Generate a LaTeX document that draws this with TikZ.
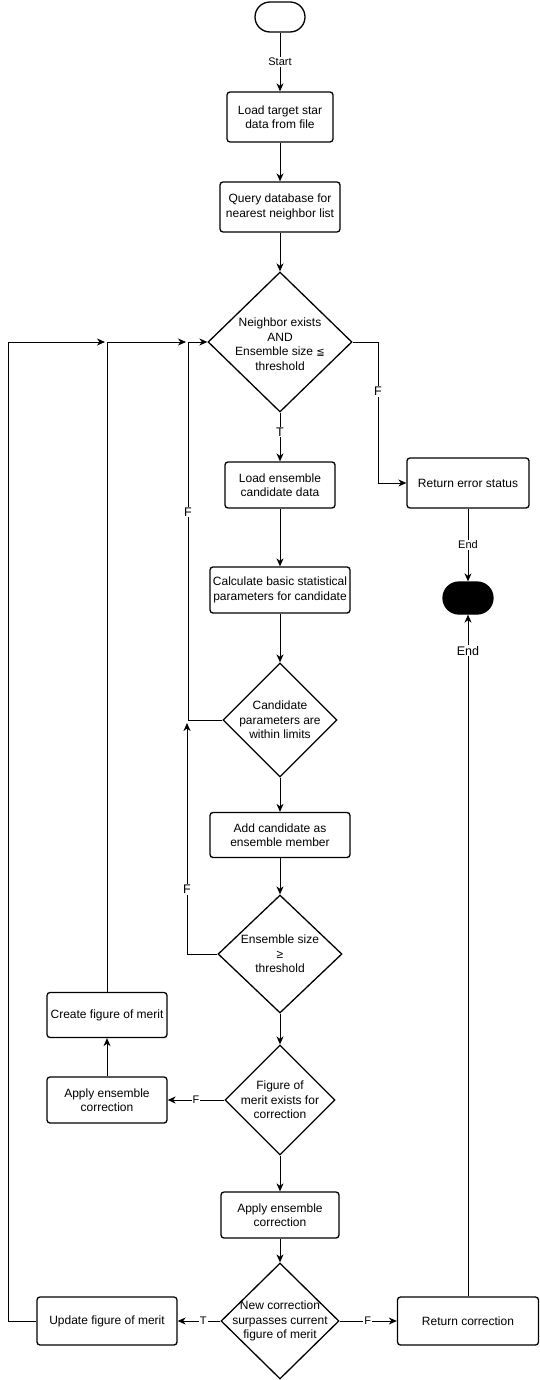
\documentclass[tikz,border=0pt]{standalone}
\usepackage{fontspec}
\setmainfont{Liberation Sans}
\newfontfamily\symfont{DejaVu Sans}
\usetikzlibrary{shapes.geometric,arrows.meta}
\begin{document}
\begin{tikzpicture}[x=1pt,y=-1pt,
  every node/.style={font=\fontsize{12}{14.5}\selectfont},
  proc/.style={draw,line width=1.3pt,rounded corners=3pt,align=center,inner sep=2pt},
  term/.style={draw,line width=1.3pt,rounded corners=15pt,minimum width=50pt,minimum height=30pt,inner sep=0pt},
  decision/.style={draw,diamond,line width=1.3pt,inner sep=0pt},
  dtext/.style={align=center,inner sep=0pt},
  lbl/.style={fill=white,inner sep=1pt,font=\fontsize{11}{13}\selectfont},
  biglbl/.style={fill=white,inner sep=1pt,font=\fontsize{12.5}{14}\selectfont},
  arr/.style={line width=1pt,-{Stealth[length=8pt,width=7pt,inset=2.5pt]}},
  ln/.style={line width=1pt}
]
\useasboundingbox (0,0) rectangle (539,1380);
\fill[white] (0,0) rectangle (539,1380);

% nodes
\node[term] (start) at (280,17) {};
\node[proc,minimum width=106pt,minimum height=50pt] (b1) at (280,117) {Load target star\\data from file};
\node[proc,minimum width=120pt,minimum height=50pt] (b2) at (280,207) {Query database for\\nearest neighbor list};
\node[decision,minimum width=144pt,minimum height=140pt] (d1) at (280,342) {};
\node[dtext] (d1t) at (280,344) {Neighbor exists\\AND\\Ensemble size {\symfont\fontsize{10}{14.5}\selectfont ≦}\\threshold};
\node[proc,minimum width=110pt,minimum height=46pt] (b3) at (280,485) {Load ensemble\\candidate data};
\node[proc,minimum width=122pt,minimum height=50pt] (err) at (468,483) {Return error status};
\node[term,fill=black,minimum height=32pt,rounded corners=16pt] (endn) at (468,598) {};
\node[proc,minimum width=140pt,minimum height=46pt] (b4) at (280,590) {Calculate basic statistical\\parameters for candidate};
\node[decision,minimum width=114pt,minimum height=114pt] (d2) at (280,720) {};
\node[dtext] (d2t) at (280,720) {Candidate\\parameters are\\within limits};
\node[proc,minimum width=140pt,minimum height=45pt] (b5) at (280,835) {Add candidate as\\ensemble member};
\node[decision,minimum width=124pt,minimum height=118pt] (d3) at (280,954) {};
\node[dtext] (d3t) at (280,954) {Ensemble size\\≥\\threshold};
\node[proc,minimum width=120pt,minimum height=45pt] (create) at (107,1015) {Create figure of merit};
\node[decision,minimum width=110pt,minimum height=110pt] (d4) at (280,1100) {};
\node[dtext] (d4t) at (280,1100) {Figure of\\merit exists for\\correction};
\node[proc,minimum width=120pt,minimum height=46pt] (applyL) at (107,1100) {Apply ensemble\\correction};
\node[proc,minimum width=118pt,minimum height=46pt] (applyC) at (280,1215) {Apply ensemble\\correction};
\node[decision,minimum width=118pt,minimum height=116pt] (d5) at (280,1321) {};
\node[dtext] (d5t) at (280,1321) {New correction\\surpasses current\\figure of merit};
\node[proc,minimum width=140pt,minimum height=48pt] (update) at (107,1321) {Update figure of merit};
\node[proc,minimum width=141pt,minimum height=48pt] (retc) at (468,1321) {Return correction};

% coordinates
\coordinate (c1) at (378,342);
\coordinate (c2) at (378,483);
\coordinate (c3) at (188,720);
\coordinate (c4) at (188,342);
\coordinate (c5) at (187,954);
\coordinate (c6) at (187,723);
\coordinate (c7) at (107,342);
\coordinate (c8) at (186,342);
\coordinate (c9) at (8,1321);
\coordinate (c10) at (8,342);
\coordinate (c11) at (105,342);

% connectors
\draw[arr] (start) -- node[lbl]{Start} (b1);
\draw[arr] (b1) -- (b2);
\draw[arr] (b2) -- (d1);
\draw[arr] (d1) -- node[biglbl,pos=0.4]{T} (b3);
\draw[arr] (d1.east) -- (c1) -- node[biglbl,pos=0.35]{F} (c2) -- (err.west);
\draw[arr] (err) -- node[lbl]{End} (endn);
\draw[arr] (retc.north) -- node[biglbl,pos=0.947]{End} (endn.south);
\draw[arr] (b3) -- (b4);
\draw[arr] (b4) -- (d2);
\draw[arr] (d2) -- (b5);
\draw[arr] (d2.west) -- (c3) -- node[biglbl,pos=0.55]{F} (c4) -- (d1.west);
\draw[arr] (b5) -- (d3);
\draw[arr] (d3.west) -- (c5) -- node[biglbl,pos=0.28]{F} (c6);
\draw[arr] (d3) -- (d4);
\draw[arr] (d4.west) -- node[lbl,pos=0.5]{F} (applyL.east);
\draw[arr] (applyL) -- (create);
\draw[arr] (create.north) -- (c7) -- (c8);
\draw[arr] (d4) -- (applyC);
\draw[arr] (applyC) -- (d5);
\draw[arr] (d5.west) -- node[lbl,pos=0.4]{T} (update.east);
\draw[arr] (d5.east) -- node[lbl,pos=0.49]{F} (retc.west);
\draw[arr] (update.west) -- (c9) -- (c10) -- (c11);
\end{tikzpicture}
\end{document}
